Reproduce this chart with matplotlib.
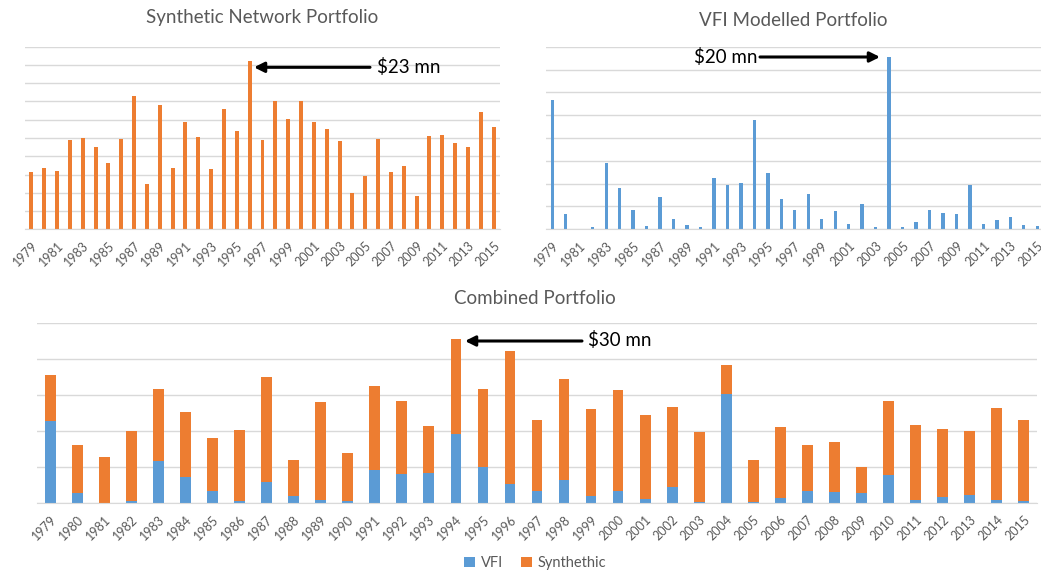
import matplotlib
matplotlib.use("Agg")
import matplotlib.pyplot as plt
import matplotlib.patches as mpatches
import numpy as np

years = list(range(1979, 2016))
synthetic = [7.9, 8.35, 8.0, 12.2, 12.45, 11.3, 9.1, 12.3, 18.25, 6.2,
             17.0, 8.35, 14.7, 12.7, 8.2, 16.5, 13.5, 23.0, 12.2, 17.6,
             15.1, 17.6, 14.7, 13.8, 12.1, 5.0, 7.3, 12.3, 7.85, 8.7,
             4.5, 12.8, 12.95, 11.8, 11.2, 16.0, 14.05]
vfi = [14.2, 1.7, 0.0, 0.3, 7.3, 4.5, 2.1, 0.35, 3.55, 1.15,
       0.5, 0.3, 5.6, 4.9, 5.1, 12.0, 6.2, 3.3, 2.1, 3.9,
       1.1, 2.0, 0.6, 2.8, 0.2, 18.9, 0.2, 0.85, 2.1, 1.8,
       1.7, 4.85, 0.55, 1.0, 1.3, 0.5, 0.35]
titles = ["Synthetic Network Portfolio", "VFI Modelled Portfolio", "Combined Portfolio"]
labels = ["$23 mn", "$20 mn", "$30 mn"]
series_names = ["VFI", "Synthethic"]

ORANGE = "#ED7D31"
BLUE = "#5B9BD5"
GRID = "#D9D9D9"
TXT = "#595959"
FONT = "Lato"

plt.rcParams['font.family'] = [FONT, 'DejaVu Sans']

W, H = 1041, 571
fig = plt.figure(figsize=(W / 100, H / 100), dpi=100)

def ax_px(x0, y0, x1, y1):
    return fig.add_axes([x0 / W, 1 - y1 / H, (x1 - x0) / W, (y1 - y0) / H])

x = np.arange(len(years))
syn = np.array(synthetic)
vf = np.array(vfi)

def style(ax, step, nsteps, every, fs, pad):
    ax.set_xlim(-0.5, len(years) - 0.5)
    ax.set_ylim(0, step * nsteps)
    ax.set_yticks(np.arange(0, nsteps + 1) * step)
    ax.set_yticklabels([])
    ax.tick_params(axis='y', length=0)
    ax.grid(axis='y', color=GRID, lw=1)
    ax.set_axisbelow(True)
    for s in ['top', 'right', 'left']:
        ax.spines[s].set_visible(False)
    ax.spines['bottom'].set_color(GRID)
    ax.set_xticks(x[::every])
    ax.set_xticklabels([str(y) for y in years[::every]], rotation=45, ha='right',
                       rotation_mode='anchor', fontsize=fs, color=TXT)
    ax.tick_params(axis='x', length=0, pad=pad)

def fig_arrow(x_tail, x_tip, y):
    fig.patches.append(mpatches.FancyArrowPatch(
        (x_tail / W, 1 - y / H), (x_tip / W, 1 - y / H), transform=fig.transFigure,
        arrowstyle='-|>', lw=2.2, color='black', mutation_scale=15, shrinkA=0, shrinkB=0))

# Top-left: synthetic
ax1 = ax_px(25, 46.7, 500, 229.3)
ax1.bar(x, syn, width=0.31, color=ORANGE)
style(ax1, 2.5, 10, 2, 9, 7)
fig_arrow(370, 254, 67.3)
fig.text(377 / W, 1 - 67 / H, labels[0], fontsize=13.5, va='center', ha='left', color='black')
fig.text(262 / W, 1 - 18 / H, titles[0], fontsize=13.5, va='center', ha='center', color=TXT)

# Top-right: VFI
ax2 = ax_px(545.6, 46.7, 1044, 229.3)
ax2.bar(x, vf, width=0.25, color=BLUE)
style(ax2, 2.5, 8, 2, 9, 7)
fig_arrow(760, 880, 57)
fig.text(758 / W, 1 - 57 / H, labels[1], fontsize=13.5, va='center', ha='right', color='black')
fig.text(793 / W, 1 - 20 / H, titles[1], fontsize=13.5, va='center', ha='center', color=TXT)

# Combined
ax3 = ax_px(37, 323.3, 1037, 502.7)
ax3.bar(x, vf, width=0.4, color=BLUE, label=series_names[0])
ax3.bar(x, syn, width=0.4, bottom=vf, color=ORANGE, label=series_names[1])
style(ax3, 6.23, 5, 1, 9, 8)
fig_arrow(582, 465, 341)
fig.text(588 / W, 1 - 340 / H, labels[2], fontsize=13.5, va='center', ha='left', color='black')
fig.text(535 / W, 1 - 298 / H, titles[2], fontsize=13.5, va='center', ha='center', color=TXT)

fig.legend(loc='center', bbox_to_anchor=(535 / W, 1 - 563 / H), ncol=2, frameon=False,
           fontsize=10.5, handlelength=0.75, handleheight=0.75, handletextpad=0.4,
           columnspacing=1.2, labelcolor=TXT)

fig.savefig("out.png", dpi=100)
